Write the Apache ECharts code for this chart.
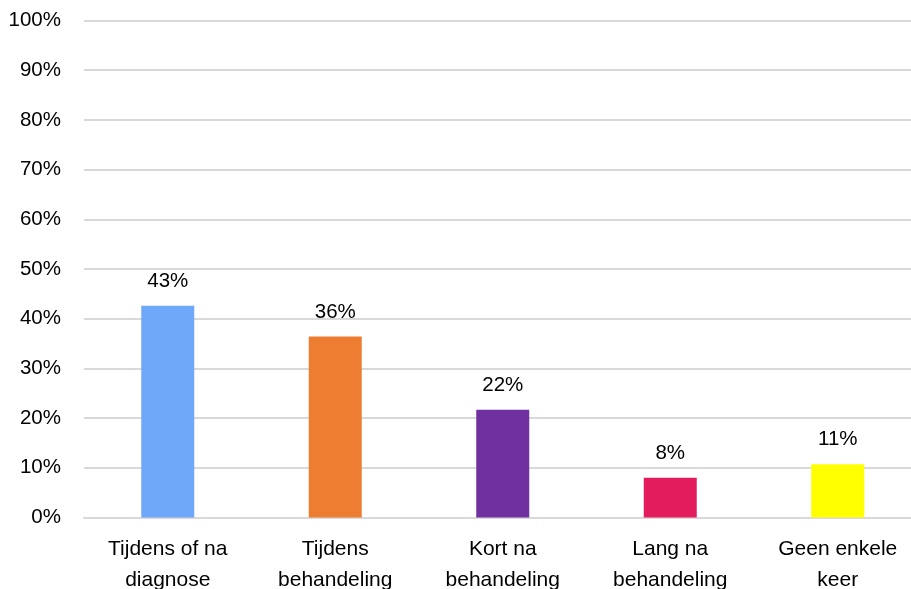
<!DOCTYPE html>
<html>
<head>
    <meta charset="utf-8">
    <title>ECharts</title>
    <script src="https://cdn.jsdelivr.net/npm/echarts@6/dist/echarts.min.js"></script>
    <style>
        html, body { margin: 0; padding: 0; background: #fff; }
    </style>
</head>
<body>
<div id="main" style="width: 911px;height:589px;"></div>
<script type="text/javascript">
    // categorieen en waarden (percentages)
    var categories = ['Tijdens of na\ndiagnose', 'Tijdens\nbehandeling', 'Kort na\nbehandeling', 'Lang na\nbehandeling', 'Geen enkele\nkeer'];
    var values = [42.6, 36.4, 21.7, 8.0, 10.7];
    var colors = ['#6FA8F8', '#ED7D31', '#7030A0', '#E31C5D', '#FFFF00'];

    var myChart = echarts.init(document.getElementById('main'));

    var option = {
        animation: false,
        textStyle: { fontFamily: 'Liberation Sans, Arial, sans-serif' },
        grid: { left: 84, top: 20.5, right: -10.5, bottom: 71.5, containLabel: false, outerBoundsMode: 'none' },
        xAxis: {
            type: 'category',
            data: categories,
            axisLine: { lineStyle: { color: '#D9D9D9', width: 2 } },
            axisTick: { show: false },
            axisLabel: { color: '#000', fontSize: 21, lineHeight: 31, margin: 16, interval: 0 }
        },
        yAxis: {
            type: 'value',
            min: 0,
            max: 100,
            interval: 10,
            axisLine: { show: false },
            axisTick: { show: false },
            splitLine: { lineStyle: { color: '#D9D9D9', width: 2 } },
            axisLabel: { color: '#000', fontSize: 20.5, margin: 23, formatter: '{value}%' }
        },
        series: [{
            type: 'bar',
            barWidth: 53,
            data: values.map(function (v, i) {
                return { value: v, itemStyle: { color: colors[i] } };
            }),
            label: {
                show: true,
                position: 'top',
                distance: 14,
                color: '#000',
                fontSize: 20.5,
                formatter: function (p) { return Math.round(p.value) + '%'; }
            }
        }]
    };

    myChart.setOption(option);
</script>
</body>
</html>
